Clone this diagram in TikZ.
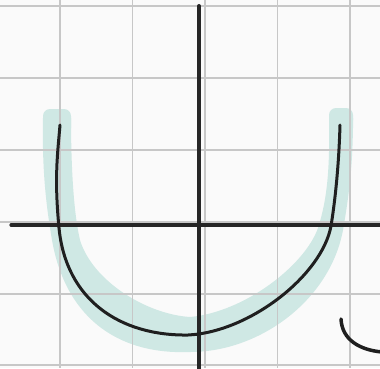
\documentclass[tikz,border=0pt]{standalone}
\begin{document}
\begin{tikzpicture}[x=1pt,y=-1pt,
  gridline/.style={draw=black!22,line width=1.1pt},
  axisline/.style={draw=black!85,line width=3.2pt,line cap=round},
  pen/.style={draw=black!88,line width=3pt,line cap=round,line join=round}]
\definecolor{tealhl}{HTML}{CFE8E4}
\useasboundingbox[fill=white!98!black] (0,0) rectangle (380,368);
% highlight band
\fill[tealhl] (43,118) .. controls (42,170) and (46,205) .. (52,240)
  .. controls (65,315) and (115,355) .. (190,352)
  .. controls (260,352) and (330,300) .. (343,230)
  .. controls (350,190) and (353,160) .. (353,118)
  -- (329,118) .. controls (330,170) and (327,200) .. (318,228)
  .. controls (305,265) and (245,312) .. (190,317)
  .. controls (145,314) and (92,280) .. (80,240)
  .. controls (74,215) and (71,170) .. (71,118) -- cycle;
\fill[tealhl,rounded corners=7pt] (43,109) rectangle (71,135);
\fill[tealhl,rounded corners=7pt] (329,108) rectangle (353,135);
% grid
\foreach \gx in {60,132.5,205,277.5,350} \draw[gridline] (\gx,0) -- (\gx,368);
\foreach \gy in {6,78,150,222,294,365} \draw[gridline] (0,\gy) -- (380,\gy);
% axes
\coordinate (xl) at (11,225); \coordinate (xr) at (382,225);
\coordinate (yt) at (199,6); \coordinate (yb) at (199,372);
\draw[axisline] (xl) -- (xr);
\draw[axisline,line width=4pt] (yt) -- (yb);
% U curve
\draw[pen] (60,125) .. controls (58,150) and (54,176) .. (59,228)
  .. controls (66,300) and (120,336) .. (188,335)
  .. controls (250,332) and (322,275) .. (331,226)
  .. controls (336,195) and (339,160) .. (340,125);
% small curve
\draw[pen,line width=3.5pt] (341,319) .. controls (342,340) and (360,350) .. (382,352);
\end{tikzpicture}
\end{document}
